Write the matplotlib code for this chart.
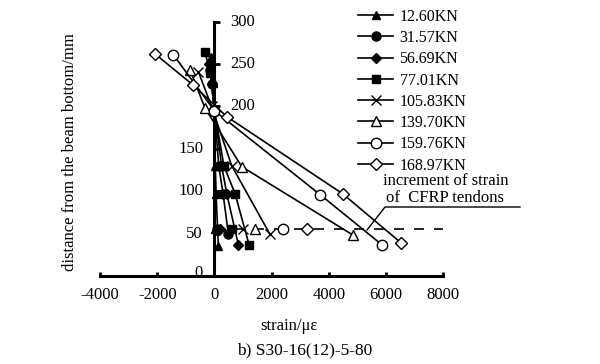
import matplotlib
matplotlib.use("Agg")
import matplotlib.pyplot as plt

plt.rcParams['font.family'] = ['Liberation Serif', 'DejaVu Serif']

labels = ["12.60KN", "31.57KN", "56.69KN", "77.01KN",
          "105.83KN", "139.70KN", "159.76KN", "168.97KN"]
markers = ["^", "o", "D", "s", "x", "^", "o", "D"]
filled = [True, True, True, True, True, False, False, False]

strain = [
    [-120, -60, 0, 30, 56, 136],
    [-154, -80, 0, 150, 300, 486],
    [-200, -100, 0, 250, 430, 835],
    [-329, -150, 0, 330, 720, 1209],
    [-562, -100, 604, 1943],
    [-853, -329, 954, 4855],
    [-1436, 0, 3691, 5847],
    [-2076, -737, 430, 4480, 6526],
]
height = [
    [258, 228, 195, 130, 97, 35],
    [243, 226, 195, 130, 97, 50],
    [250, 226, 195, 130, 97, 37],
    [264, 240, 195, 130, 97, 37],
    [241, 200, 130, 49],
    [243, 198, 129, 48],
    [261, 195, 96, 37],
    [262, 225, 188, 97, 39],
]
cfrp_strain = [30, 80, 200, 604, 1010, 1419, 2408, 3250]
cfrp_height = 55
cfrp_line_x = [0, 8000]

xticks = [-4000, -2000, 0, 2000, 4000, 6000, 8000]
yticks = [0, 50, 100, 150, 200, 250, 300]

fig = plt.figure(figsize=(6.0, 3.64), dpi=100)
ax = fig.add_axes([0.1667, 0.2418, 0.5722, 0.6986])
ax.set_xlim(-4000, 8000)
ax.set_ylim(0, 300)

ax.plot(cfrp_line_x, [cfrp_height, cfrp_height], color='black', lw=1.2,
        linestyle=(0, (6, 6)), zorder=1)

msize_f = {"^": 6, "o": 6.5, "D": 5, "s": 5.5, "x": 7}
msize_o = {"^": 7, "o": 7.5, "D": 6}
for i in range(len(labels)):
    m = markers[i]
    mfc = 'black' if filled[i] else 'white'
    ms = msize_f[m] if filled[i] else msize_o[m]
    ax.plot(strain[i], height[i], color='black', lw=1.2, marker=m,
            markersize=ms, markerfacecolor=mfc, markeredgecolor='black',
            markeredgewidth=1.0, label=labels[i], zorder=3)
    ax.plot([cfrp_strain[i]], [cfrp_height], linestyle='none', marker=m,
            markersize=ms, markerfacecolor=mfc, markeredgecolor='black',
            markeredgewidth=1.0, zorder=3)

for s in ['top', 'right']:
    ax.spines[s].set_visible(False)
ax.spines['left'].set_position(('data', 0))
ax.spines['left'].set_linewidth(2.2)
ax.spines['bottom'].set_linewidth(2.2)

ax.set_xticks(xticks)
ax.set_xticklabels([str(v) for v in xticks], fontsize=12)
ax.tick_params(axis='x', direction='in', length=3, width=2, pad=8)
ax.set_yticks(yticks)
ax.set_yticklabels([])
ax.tick_params(axis='y', direction='in', length=4, width=2)

for v in yticks:
    if v >= 200:
        ax.text(550, v, str(v), ha='left', va='center', fontsize=12)
    else:
        ax.text(-400, v + (3 if v == 0 else 0), str(v), ha='right',
                va='center', fontsize=12)

leg = ax.legend(loc='upper left', bbox_to_anchor=(358 / 600, 0.976),
                bbox_transform=fig.transFigure, frameon=False, fontsize=11.5,
                handlelength=2.2, handletextpad=0.4, labelspacing=0.33,
                borderpad=0, borderaxespad=0)

fig.text(383 / 600, 1 - 181 / 364, "increment of strain", fontsize=12,
         ha='left', va='center')
fig.text(386 / 600, 1 - 198 / 364, "of  CFRP tendons", fontsize=12,
         ha='left', va='center')
fig.add_artist(plt.Line2D([367 / 600, 385 / 600, 520 / 600],
                          [1 - 230 / 364, 1 - 207 / 364, 1 - 207 / 364],
                          color='black', lw=1.0))

fig.text(70 / 600, 1 - 152 / 364, "distance from the beam bottom/mm",
         rotation=90, ha='center', va='center', fontsize=12)
fig.text(289 / 600, 1 - 326 / 364, "strain/\u03bc\u03b5", ha='center',
         va='center', fontsize=12)
fig.text(305 / 600, 1 - 350 / 364, "b) S30-16(12)-5-80", ha='center',
         va='center', fontsize=12.5)

fig.savefig("out.png", dpi=100)
